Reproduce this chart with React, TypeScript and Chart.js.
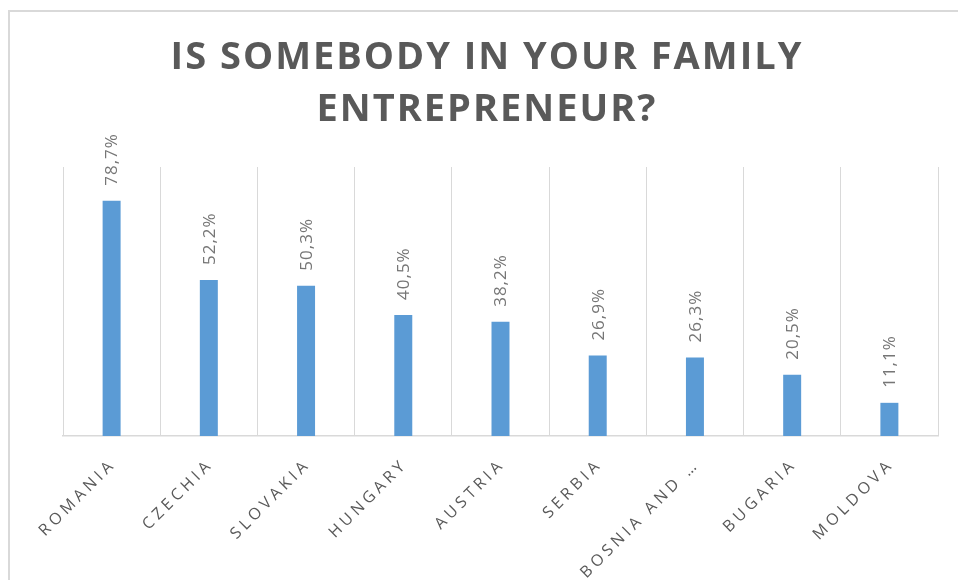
import React, { useEffect, useRef } from 'react';
import { Chart, registerables } from 'chart.js';

Chart.register(...registerables);

const titleLines = ['IS SOMEBODY IN YOUR FAMILY', 'ENTREPRENEUR?'];
const categories = ['ROMANIA', 'CZECHIA', 'SLOVAKIA', 'HUNGARY', 'AUSTRIA', 'SERBIA', 'BOSNIA AND …', 'BUGARIA', 'MOLDOVA'];
const values = [78.7, 52.2, 50.3, 40.5, 38.2, 26.9, 26.3, 20.5, 11.1];
const yMax = 90;

const fmt = (v: number) => v.toFixed(1).replace('.', ',') + '%';

const stylePlugin = {
  id: 'excelStyle',
  beforeDraw(chart: any) {
    const ctx = chart.ctx;
    ctx.save();
    ctx.strokeStyle = '#d9d9d9';
    ctx.lineWidth = 2;
    ctx.beginPath();
    ctx.moveTo(9, chart.height);
    ctx.lineTo(9, 11);
    ctx.lineTo(chart.width, 11);
    ctx.stroke();
    ctx.restore();
    ctx.letterSpacing = '2px';
  },
  afterDatasetsDraw(chart: any) {
    const ctx = chart.ctx;
    const meta = chart.getDatasetMeta(0);
    ctx.save();
    ctx.letterSpacing = '1px';
    ctx.font = '17px "Open Sans"';
    ctx.fillStyle = '#767676';
    ctx.textAlign = 'left';
    ctx.textBaseline = 'middle';
    meta.data.forEach((bar: any, i: number) => {
      ctx.save();
      ctx.translate(bar.x + 1, bar.y - 15);
      ctx.rotate(-Math.PI / 2);
      ctx.fillText(fmt(values[i]), 0, 0);
      ctx.restore();
    });
    ctx.restore();
    ctx.letterSpacing = '4px';
  },
  afterDraw(chart: any) {
    chart.ctx.letterSpacing = '0px';
  },
};

export default function App() {
  const ref = useRef<HTMLCanvasElement | null>(null);

  useEffect(() => {
    document.body.style.margin = '0';
    const canvas = ref.current;
    if (!canvas) return;
    const chart = new Chart(canvas, {
      type: 'bar',
      data: {
        labels: categories,
        datasets: [
          {
            data: values,
            backgroundColor: '#5B9BD5',
            borderWidth: 0,
            categoryPercentage: 1,
            barPercentage: 0.185,
          },
        ],
      },
      options: {
        responsive: false,
        animation: false,
        devicePixelRatio: 1,
        layout: { padding: { left: 36, right: 20, top: 0, bottom: 0 } },
        plugins: {
          legend: { display: false },
          tooltip: { enabled: false },
          title: {
            display: true,
            text: titleLines,
            color: '#595959',
            font: { family: "'Open Sans', sans-serif", size: 38, weight: 'bold', lineHeight: 52 / 38 },
            padding: { top: 32, bottom: 31 },
          },
        },
        scales: {
          x: {
            grid: { display: true, color: '#d9d9d9', lineWidth: 1, drawTicks: false, offset: true },
            border: { display: true, color: '#d9d9d9', width: 1.5 },
            ticks: {
              font: { family: "'Open Sans', sans-serif", size: 16 },
              color: '#595959',
              padding: 19,
              labelOffset: 2,
              minRotation: 45,
              maxRotation: 45,
              autoSkip: false,
              z: 1,
            },
            afterFit(scale: any) {
              scale.height = 144;
            },
          },
          y: {
            display: true,
            min: 0,
            max: yMax,
            grid: { display: false },
            border: { display: false },
            ticks: { display: false },
            afterFit(scale: any) {
              scale.width = 27;
            },
          },
        },
      },
      plugins: [stylePlugin],
    });
    return () => chart.destroy();
  }, []);

  return (
    <div style={{ width: 958, height: 580 }}>
      <canvas ref={ref} width={958} height={580} style={{ display: 'block' }} />
    </div>
  );
}
